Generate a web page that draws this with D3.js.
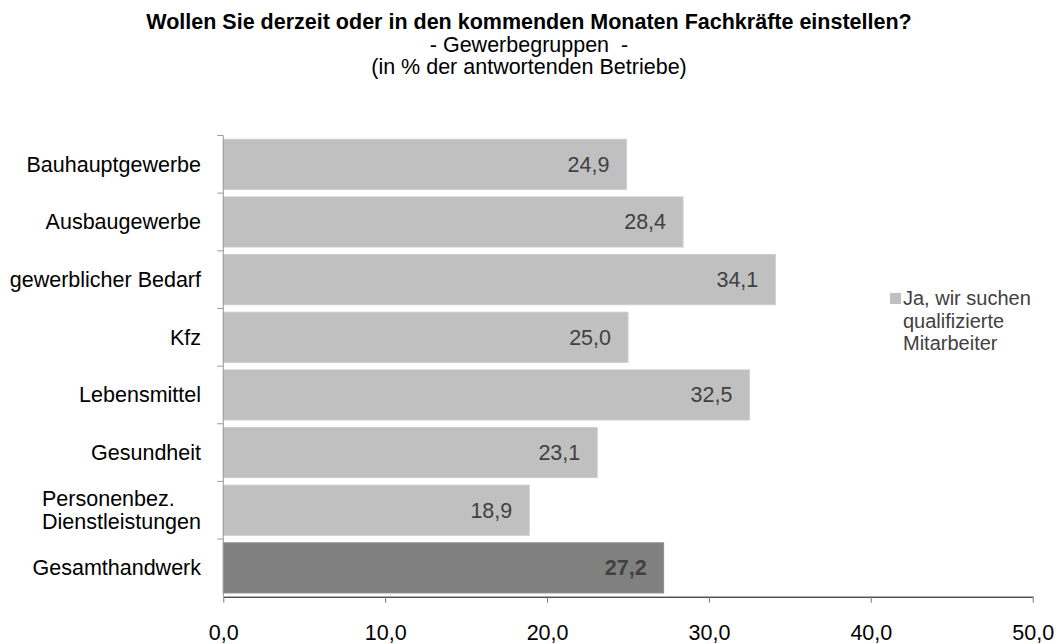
<!DOCTYPE html>
<html>
<head>
<meta charset="utf-8">
<script src="https://cdn.jsdelivr.net/npm/d3@7"></script>
<style>
  body { margin: 0; background: #fff; }
  svg { font-family: "Liberation Sans", Arial, sans-serif; }
</style>
</head>
<body>
<div id="chart"></div>
<script>
const titleLines = ['Wollen Sie derzeit oder in den kommenden Monaten Fachkräfte einstellen?',
                    '- Gewerbegruppen  -',
                    '(in % der antwortenden Betriebe)'];
const categories = ['Bauhauptgewerbe', 'Ausbaugewerbe', 'gewerblicher Bedarf', 'Kfz',
                    'Lebensmittel', 'Gesundheit', 'Personenbez.\nDienstleistungen', 'Gesamthandwerk'];
const values = [24.9, 28.4, 34.1, 25.0, 32.5, 23.1, 18.9, 27.2];
const xTicks = [0, 10, 20, 30, 40, 50];
const legendLines = ['Ja, wir suchen', 'qualifizierte', 'Mitarbeiter'];
const totalLabel = 'Gesamthandwerk';

const width = 1058, height = 644;
const margin = {top: 135.5, left: 223.3, right: 25.3, bottom: 47.3};
const fontSize = '21.5px';

const de = d3.formatLocale({decimal: ',', thousands: '.', grouping: [3], currency: ['', '€']});
const fmt = de.format('.1f');

const svg = d3.select('#chart').append('svg')
              .attr('width', width)
              .attr('height', height);

// title
svg.append('g')
   .selectAll('text')
   .data(titleLines)
   .enter()
   .append('text')
   .attr('x', 529)
   .attr('y', (d, i) => 29 + i * 22.5)
   .attr('text-anchor', 'middle')
   .style('white-space', 'pre')
   .style('font-size', fontSize)
   .style('font-weight', (d, i) => i === 0 ? 'bold' : 'normal')
   .text(d => d);

const data = categories.map((c, i) => ({cat: c, value: values[i]}));

const x = d3.scaleLinear()
            .domain([0, 50])
            .range([margin.left, width - margin.right]);
const y = d3.scaleBand()
            .domain(categories)
            .range([margin.top, height - margin.bottom])
            .paddingInner(0.13)
            .paddingOuter(0.065);

// bars
svg.append('g')
   .selectAll('rect')
   .data(data)
   .enter()
   .append('rect')
   .attr('x', x(0))
   .attr('y', d => y(d.cat))
   .attr('width', d => x(d.value) - x(0))
   .attr('height', y.bandwidth())
   .attr('fill', d => d.cat === totalLabel ? '#808080' : '#c0c0c0')
   .attr('stroke', d => d.cat === totalLabel ? '#8c8c8c' : '#cdcdcd')
   .attr('stroke-width', 1);

// value labels
svg.append('g')
   .selectAll('text')
   .data(data)
   .enter()
   .append('text')
   .attr('x', d => x(d.value) - 17)
   .attr('y', d => y(d.cat) + y.bandwidth() / 2 + 7.5)
   .attr('text-anchor', 'end')
   .attr('fill', '#404040')
   .style('font-size', fontSize)
   .style('font-weight', d => d.cat === totalLabel ? 'bold' : 'normal')
   .text(d => fmt(d.value));

// y axis
const yAxis = svg.append('g')
                 .attr('transform', `translate(${margin.left},0)`);
yAxis.append('line')
     .attr('x1', 0).attr('x2', 0)
     .attr('y1', margin.top).attr('y2', height - margin.bottom)
     .attr('stroke', '#999');
const bounds = categories.map(c => y(c) - y.step() * y.paddingInner() / 2);
yAxis.selectAll('.tick')
     .data(bounds)
     .enter()
     .append('line')
     .attr('class', 'tick')
     .attr('x1', -6).attr('x2', 0)
     .attr('y1', d => d).attr('y2', d => d)
     .attr('stroke', '#999');

// category labels
const catLabels = svg.append('g');
categories.forEach(c => {
  const lines = c.split('\n');
  const cy = y(c) + y.bandwidth() / 2;
  const t = catLabels.append('text')
                     .style('font-size', fontSize)
                     .attr('fill', '#000');
  lines.forEach((l, i) => {
    t.append('tspan')
     .attr('y', cy + 7.5 + (i - (lines.length - 1) / 2) * 23.5)
     .text(l);
  });
  const spans = t.selectAll('tspan').nodes();
  const w = d3.max(spans, n => n.getComputedTextLength());
  spans.forEach(n => n.setAttribute('x', 201 - w));
});

// x axis
const xAxis = svg.append('g')
                 .attr('transform', `translate(0,${height - margin.bottom})`)
                 .call(d3.axisBottom(x)
                         .tickValues(xTicks)
                         .tickFormat(fmt)
                         .tickSize(6)
                         .tickSizeOuter(0));
xAxis.select('.domain').attr('stroke', '#000');
xAxis.selectAll('.tick line').attr('stroke', '#777');
xAxis.selectAll('.tick text')
     .attr('y', 43)
     .attr('dy', 0)
     .attr('fill', '#000')
     .style('font-size', fontSize)
     .style('font-family', '"Liberation Sans", Arial, sans-serif');

// legend
const legend = svg.append('g');
legend.append('rect')
      .attr('x', 890).attr('y', 293)
      .attr('width', 11).attr('height', 11)
      .attr('fill', '#c0c0c0');
legend.selectAll('text')
      .data(legendLines)
      .enter()
      .append('text')
      .attr('x', 903)
      .attr('y', (d, i) => 305 + i * 22.5)
      .attr('fill', '#404040')
      .style('font-size', '20px')
      .text(d => d);
</script>
</body>
</html>
